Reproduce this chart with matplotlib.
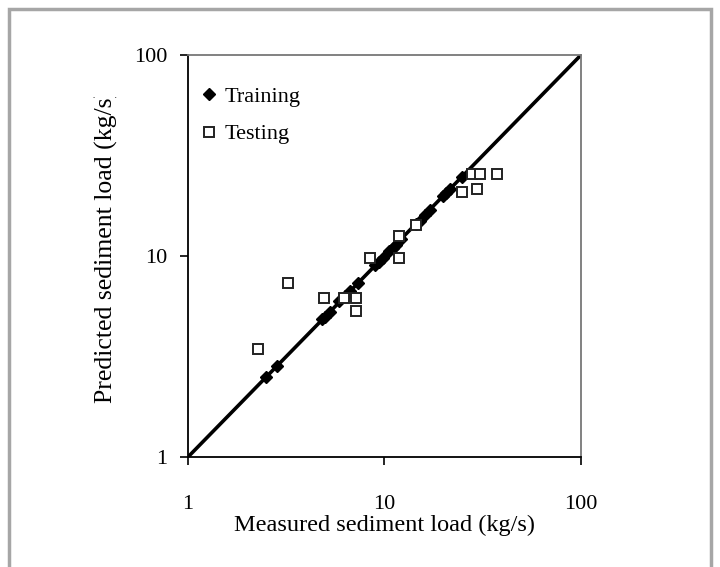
import numpy as np
import matplotlib
matplotlib.use("Agg")
import matplotlib.pyplot as plt
from matplotlib.patches import Rectangle

plt.rcParams['font.family'] = ['Liberation Serif', 'DejaVu Serif']

# training points (measured, predicted), all close to the 1:1 line
train_meas = [2.5, 2.85, 4.8, 5.0, 5.3, 5.9, 6.3, 6.7, 7.3, 9.0, 9.4, 9.8, 10.6, 11.0, 11.4, 12.2,
              14.5, 15.1, 16.0, 17.0, 19.8, 20.5, 21.5, 24.7]
train_pred = [2.5, 2.85, 4.85, 5.0, 5.25, 5.95, 6.3, 6.7, 7.3, 9.0, 9.3, 9.8, 10.6, 11.0, 11.4, 12.2,
              14.5, 15.0, 16.0, 17.0, 19.8, 20.5, 21.5, 24.7]

# testing points
test_meas = [2.27, 3.23, 4.9, 6.2, 7.2, 7.2, 8.45, 11.9, 11.9, 14.4, 24.8, 29.6, 27.9, 30.6, 37.4]
test_pred = [3.45, 7.35, 6.2, 6.2, 6.2, 5.3, 9.8, 9.8, 12.6, 14.3, 20.8, 21.5, 25.6, 25.6, 25.6]

line_x = [1, 100]
line_y = [1, 100]

fig = plt.figure(figsize=(7.2, 5.67), dpi=100)
ax = fig.add_axes([0.2611, 0.194, 0.5458, 0.709])

ax.plot(line_x, line_y, '-', color='black', lw=2.6, zorder=2)
ax.plot(train_meas, train_pred, 'D', color='black', ms=6, zorder=3, label='Training')
ax.plot(test_meas, test_pred, 's', mfc='white', mec='#222222', mew=1.4, ms=7, zorder=4,
        label='Testing')

ax.set_xscale('log')
ax.set_yscale('log')
ax.set_xlim(1, 100)
ax.set_ylim(1, 100)
ax.set_xticks([1, 10, 100])
ax.set_yticks([1, 10, 100])
ax.set_xticklabels(['1', '10', '100'])
ax.set_yticklabels(['1', '10', '100'])
ax.minorticks_off()
ax.tick_params(axis='x', direction='out', length=6, width=1.2, pad=21, labelsize=16)
ax.tick_params(axis='y', direction='out', length=6, width=1.2, pad=9, labelsize=16)

for s in ['left', 'bottom']:
    ax.spines[s].set_linewidth(1.3)
    ax.spines[s].set_color('black')
for s in ['top', 'right']:
    ax.spines[s].set_linewidth(1.3)
    ax.spines[s].set_color('#777777')

ax.set_xlabel('Measured sediment load (kg/s)', fontsize=17.5)
ax.xaxis.set_label_coords(0.5, -0.143)

# y label is cut off at the top in the original
yl = fig.text(106 / 720, 1 - 403 / 567, 'Predicted sediment load (kg/s)', rotation=90,
              fontsize=18.5, ha='center', va='bottom')
yl.set_clip_path(Rectangle((0, 0), 1, 1 - 97 / 567, transform=fig.transFigure))

leg = ax.legend(loc='upper left', bbox_to_anchor=(-0.014, 0.96), frameon=False, fontsize=16,
                handletextpad=0.2, handlelength=1.0, labelspacing=0.75, borderaxespad=0.3)

# gray frame around the whole picture
fig.patches.append(Rectangle((9 / 720, -0.05), 702 / 720, 1.05 - 9 / 567, transform=fig.transFigure,
                             fill=False, edgecolor='#a6a6a6', lw=2.5))

fig.savefig('out.png', dpi=100)
